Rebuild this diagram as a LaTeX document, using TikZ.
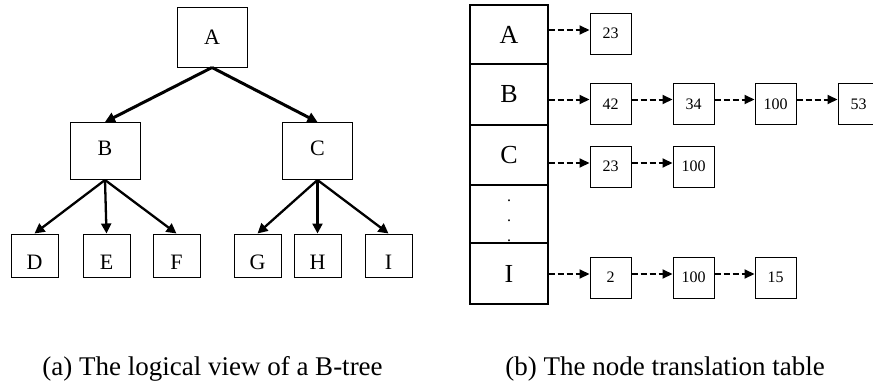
\documentclass[tikz,border=0pt]{standalone}
\usepackage{fontspec}
\setmainfont{Liberation Serif}
\usetikzlibrary{arrows.meta}
\begin{document}
\begin{tikzpicture}[x=1pt,y=-1pt,
  treenode/.style={draw, line width=1pt, inner sep=0pt,
    font=\fontsize{22}{22}\selectfont},
  inner/.style={treenode, minimum width=70pt, minimum height=57pt,
    text depth=5pt},
  leaf/.style={treenode, minimum width=47pt, minimum height=43pt,
    text height=28pt, text depth=0pt},
  link/.style={line width=2.3pt, -{Triangle[length=10pt,width=10pt]}},
  toplink/.style={link, line width=3pt},
  slot/.style={draw, line width=1.2pt, minimum width=78pt, inner sep=0pt,
    font=\fontsize{26}{26}\selectfont},
  entry/.style={draw, line width=1pt, minimum width=41pt, minimum height=41pt,
    inner sep=0pt, font=\fontsize{16}{16}\selectfont},
  ptr/.style={line width=2pt, dash pattern=on 6pt off 3pt,
    -{Triangle[length=10pt,width=9pt]}},
  caption/.style={anchor=base, font=\fontsize{27}{27}\selectfont}]
\useasboundingbox (0,0) rectangle (873,381);

% logical B-tree
\node[inner, minimum height=60pt, text depth=0pt] (A) at (212,37) {A};
\node[inner] (B) at (105,151) {B};
\node[inner] (C) at (317.5,151) {C};
\node[leaf] (D) at (34.5,255.5) {D};
\node[leaf] (E) at (106.5,255.5) {E};
\node[leaf] (F) at (176.5,255.5) {F};
\node[leaf] (G) at (257.5,255.5) {G};
\node[leaf] (H) at (317.5,255.5) {H};
\node[leaf] (I) at (388.5,255.5) {I};

\draw[toplink] (A.south) -- (B.north);
\draw[toplink] (A.south) -- (C.north);
\foreach \c in {D,E,F} \draw[link] (B.south) -- (\c.north);
\foreach \c in {G,H,I} \draw[link] (C.south) -- (\c.north);

% node translation table
\node[slot, minimum height=59pt] (rA) at (509,34.5) {A};
\node[slot, minimum height=61pt] (rB) at (509,94.5) {B};
\node[slot, minimum height=60pt] (rC) at (509,155) {C};
\node[slot, minimum height=58pt] (rD) at (509,214) {};
\node[slot, minimum height=61pt] (rI) at (509,273.5) {I};
\node[anchor=north, inner sep=0pt, align=center,
  font=\fontsize{16}{20}\selectfont] (dots) at (509,200) {.\\.\\.};

% mapped physical entries
\node[entry] (a1) at (610.5,33.5) {23};

\node[entry] (b1) at (610.5,104) {42};
\node[entry] (b2) at (693.5,104) {34};
\node[entry] (b3) at (775.5,104) {100};
\node[entry] (b4) at (858.5,104) {53};

\node[entry] (c1) at (610.5,166.5) {23};
\node[entry] (c2) at (693.5,166.5) {100};

\node[entry] (i1) at (610.5,277.5) {2};
\node[entry] (i2) at (693.5,277.5) {100};
\node[entry] (i3) at (775.5,277.5) {15};

% pointers run a little above the entry centres
\coordinate (pa) at ([yshift=3.5pt]a1.west);
\coordinate (pb) at ([yshift=4.5pt]b1.west);
\coordinate (pc) at ([yshift=3.5pt]c1.west);
\coordinate (pi) at ([yshift=3.5pt]i1.west);

\draw[ptr] (pa -| rA.east) -- (pa);
\draw[ptr] (pb -| rB.east) -- (pb);
\draw[ptr] ([yshift=4.5pt]b1.east) -- ([yshift=4.5pt]b2.west);
\draw[ptr] ([yshift=4.5pt]b2.east) -- ([yshift=4.5pt]b3.west);
\draw[ptr] ([yshift=4.5pt]b3.east) -- ([yshift=4.5pt]b4.west);
\draw[ptr] (pc -| rC.east) -- (pc);
\draw[ptr] ([yshift=3.5pt]c1.east) -- ([yshift=3.5pt]c2.west);
\draw[ptr] (pi -| rI.east) -- (pi);
\draw[ptr] ([yshift=3.5pt]i1.east) -- ([yshift=3.5pt]i2.west);
\draw[ptr] ([yshift=3.5pt]i2.east) -- ([yshift=3.5pt]i3.west);

% captions
\node[caption] (capa) at (212.5,375) {(a) The logical view of a B-tree};
\node[caption] (capb) at (665,375) {(b) The node translation table};
\end{tikzpicture}
\end{document}
